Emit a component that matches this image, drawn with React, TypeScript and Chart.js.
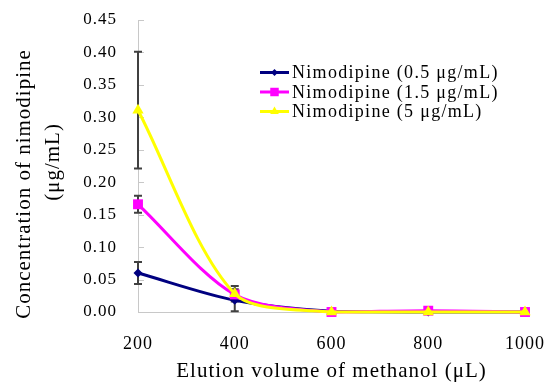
import React, { useEffect, useRef } from 'react';
import { Chart, registerables } from 'chart.js';

Chart.register(...registerables);

// ---- data ----
const xValues = [200, 400, 600, 800, 1000];
const seriesLabels = [
  'Nimodipine (0.5 μg/mL)',
  'Nimodipine (1.5 μg/mL)',
  'Nimodipine (5 μg/mL)',
];
const conc05 = [0.06, 0.018, 0.001, 0.0, 0.0];
const conc15 = [0.166, 0.027, 0.0, 0.002, 0.0];
const conc5 = [0.311, 0.028, 0.0, 0.0, 0.0];
const err05 = [0.017, 0.017, 0, 0, 0];
const err15 = [0.013, 0.004, 0, 0, 0];
const err5 = [0.09, 0.012, 0, 0, 0];
const yTitleLines = ['Concentration of nimodipine', '(μg/mL)'];
const xTitle = 'Elution volume of methanol (μL)';

const seriesValues = [conc05, conc15, conc5];
const seriesErrors = [err05, err15, err5];
const seriesColors = ['#000080', '#ff00ff', '#ffff00'];
const seriesPoints = ['rectRot', 'rect', 'triangle'];
const seriesRadius = [4.5, 7, 6.5];
const seriesOrder = [2, 1, 0];

const FONT = '"Liberation Serif", "Times New Roman", serif';

function drawMarker(ctx: CanvasRenderingContext2D, style: string, x: number, y: number, r: number, color: string) {
  ctx.fillStyle = color;
  ctx.beginPath();
  if (style === 'rect') {
    const h = r * Math.SQRT1_2;
    ctx.rect(x - h, y - h, 2 * h, 2 * h);
  } else if (style === 'rectRot') {
    ctx.moveTo(x, y - r);
    ctx.lineTo(x + r, y);
    ctx.lineTo(x, y + r);
    ctx.lineTo(x - r, y);
    ctx.closePath();
  } else {
    const side = (r * 3) / Math.sqrt(3);
    const height = (side * Math.sqrt(3)) / 2;
    ctx.moveTo(x, y - (2 * height) / 3);
    ctx.lineTo(x + side / 2, y + height / 3);
    ctx.lineTo(x - side / 2, y + height / 3);
    ctx.closePath();
  }
  ctx.fill();
}

const spacingPlugin = {
  id: 'letterSpacing',
  afterInit(chart: any) {
    (chart.ctx as any).letterSpacing = '1px';
  },
  beforeUpdate(chart: any) {
    (chart.ctx as any).letterSpacing = '1px';
  },
  beforeDraw(chart: any) {
    (chart.ctx as any).letterSpacing = '1px';
  },
};

const errorBarPlugin = {
  id: 'errorBars',
  beforeDatasetsDraw(chart: any) {
    const { ctx, scales } = chart;
    const x = scales.x;
    const y = scales.y;
    ctx.save();
    // inside tick marks on the y axis
    ctx.strokeStyle = '#c8c8c8';
    ctx.lineWidth = 1;
    y.ticks.forEach((t: any) => {
      const py = Math.round(y.getPixelForValue(t.value)) + 0.5;
      ctx.beginPath();
      ctx.moveTo(x.left, py);
      ctx.lineTo(x.left + 6, py);
      ctx.stroke();
    });
    ctx.strokeStyle = '#404040';
    ctx.lineWidth = 2;
    seriesErrors.forEach((errs, i) => {
      errs.forEach((e, j) => {
        if (!e) return;
        const v = seriesValues[i][j];
        const px = x.getPixelForValue(xValues[j]);
        const top = y.getPixelForValue(v + e);
        const bot = y.getPixelForValue(Math.max(0, v - e));
        ctx.beginPath();
        ctx.moveTo(px, top);
        ctx.lineTo(px, bot);
        ctx.moveTo(px - 4, top);
        ctx.lineTo(px + 4, top);
        if (v - e > 0) {
          ctx.moveTo(px - 4, bot);
          ctx.lineTo(px + 4, bot);
        }
        ctx.stroke();
      });
    });
    ctx.restore();
  },
};

const legendPlugin = {
  id: 'insideLegend',
  afterDraw(chart: any) {
    const { ctx } = chart;
    ctx.save();
    (ctx as any).letterSpacing = '1.3px';
    ctx.font = `18px ${FONT}`;
    ctx.textBaseline = 'middle';
    ctx.textAlign = 'left';
    const x0 = 260;
    const x1 = 289;
    const rowY = [72.5, 92, 111.5];
    seriesLabels.forEach((label, i) => {
      const yy = rowY[i];
      ctx.strokeStyle = seriesColors[i];
      ctx.lineWidth = 3;
      ctx.beginPath();
      ctx.moveTo(x0, yy);
      ctx.lineTo(x1, yy);
      ctx.stroke();
      const mr = i === 0 ? 3.5 : i === 1 ? 6 : 5;
      drawMarker(ctx, seriesPoints[i], (x0 + x1) / 2, yy, mr, seriesColors[i]);
      ctx.fillStyle = '#000000';
      ctx.fillText(label, 292, yy + 1);
    });
    ctx.restore();
  },
};

const yTitlePlugin = {
  id: 'yTitle',
  afterDraw(chart: any) {
    const { ctx } = chart;
    const centers = [
      [24, 184],
      [53, 162],
    ];
    ctx.save();
    (ctx as any).letterSpacing = '1px';
    ctx.font = `21px ${FONT}`;
    ctx.fillStyle = '#000000';
    ctx.textAlign = 'center';
    ctx.textBaseline = 'middle';
    yTitleLines.forEach((line, i) => {
      ctx.save();
      ctx.translate(centers[i][0], centers[i][1]);
      ctx.rotate(-Math.PI / 2);
      ctx.fillText(line, 0, 0);
      ctx.restore();
    });
    ctx.restore();
  },
};

export default function App() {
  const canvasRef = useRef<HTMLCanvasElement | null>(null);

  useEffect(() => {
    const canvas = canvasRef.current;
    if (!canvas) return;
    const chart = new Chart(canvas, {
      type: 'line',
      data: {
        datasets: seriesValues.map((vals, i) => ({
          label: seriesLabels[i],
          data: vals.map((v, j) => ({ x: xValues[j], y: v })),
          borderColor: seriesColors[i],
          backgroundColor: seriesColors[i],
          borderWidth: 3,
          pointStyle: seriesPoints[i] as any,
          pointRadius: seriesRadius[i],
          pointBorderWidth: 0,
          pointBackgroundColor: seriesColors[i],
          tension: 0.3,
          order: seriesOrder[i],
          clip: false as any,
          fill: false,
        })),
      },
      options: {
        responsive: false,
        animation: false,
        devicePixelRatio: 1,
        layout: { padding: { top: 20, right: 22, left: 0, bottom: 0 } },
        plugins: {
          legend: { display: false },
          tooltip: { enabled: false },
        },
        scales: {
          x: {
            type: 'linear',
            min: 200,
            max: 1000,
            afterFit: (s: any) => {
              s.height = 70;
            },
            grid: { display: false, drawTicks: true, tickLength: 21 },
            border: { display: true, color: '#c8c8c8', width: 1 },
            ticks: {
              stepSize: 200,
              padding: 0,
              color: '#000000',
              font: { family: FONT, size: 18 },
              callback: (v: any) => String(v),
              maxRotation: 0,
            },
            title: {
              display: true,
              text: xTitle,
              color: '#000000',
              font: { family: FONT, size: 21, lineHeight: 1.0 },
              padding: { top: 0, bottom: 0 },
            },
          },
          y: {
            type: 'linear',
            min: 0,
            max: 0.45,
            afterFit: (s: any) => {
              s.width = 138;
            },
            grid: { display: false, drawTicks: true, tickLength: 21 },
            border: { display: true, color: '#c8c8c8', width: 1 },
            ticks: {
              stepSize: 0.05,
              padding: 0,
              color: '#000000',
              font: { family: FONT, size: 17 },
              callback: (v: any) => Number(v).toFixed(2),
            },
            title: { display: false },
          },
        },
      },
      plugins: [spacingPlugin, errorBarPlugin, legendPlugin, yTitlePlugin],
    });
    return () => chart.destroy();
  }, []);

  return (
    <div style={{ position: 'absolute', left: 0, top: 0, width: 547, height: 382, background: '#ffffff' }}>
      <canvas ref={canvasRef} width={547} height={382} style={{ width: '547px', height: '382px', display: 'block' }} />
    </div>
  );
}
